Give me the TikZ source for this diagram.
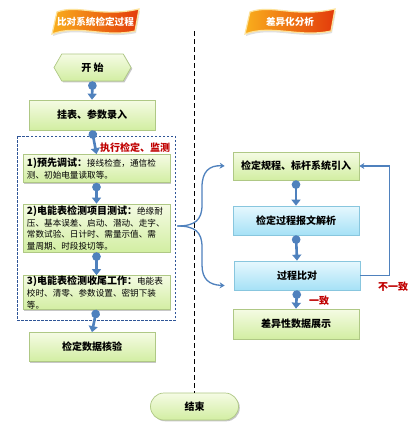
\documentclass[tikz,border=0pt]{standalone}
\usepackage{fontspec}
\setmainfont{Noto Sans CJK SC}
\usetikzlibrary{arrows.meta,shapes.symbols,shadows,calc}
\definecolor{flowblue}{HTML}{4F81BD}
\definecolor{gtop}{HTML}{F5FBE4}
\definecolor{gbot}{HTML}{D2EEA2}
\definecolor{gline}{HTML}{AFC885}
\definecolor{btop}{HTML}{E6F8FE}
\definecolor{bbot}{HTML}{A6E1F6}
\definecolor{bline}{HTML}{88C6DE}
\definecolor{redtxt}{HTML}{C00000}
\definecolor{grpline}{HTML}{2F5597}
\definecolor{flagA}{HTML}{F9AE1C}
\definecolor{flagB}{HTML}{E33A0B}
\definecolor{flagrim}{HTML}{FDE29A}
\tikzset{
  shad/.style={drop shadow={shadow xshift=1.3pt,shadow yshift=-1.3pt,fill=black,opacity=0.22}},
  gbox/.style={draw=gline, line width=0.7pt, top color=gtop, bottom color=gbot, shad,
    font=\fontsize{10}{12}\selectfont\bfseries, inner sep=2pt},
  bbox/.style={draw=bline, line width=0.7pt, top color=btop, bottom color=bbot, shad,
    font=\fontsize{10}{12}\selectfont\bfseries, inner sep=2pt},
  stepbox/.style={gbox, minimum width=147pt, text width=139pt, align=left, inner xsep=4pt, inner ysep=0.5pt,
    font=\fontsize{8.6}{11.8}\selectfont},
  flow/.style={draw=flowblue, line width=2.6pt, {Circle[length=8.5pt]}-{Triangle[width=9pt,length=6pt]}},
  thinflow/.style={draw=flowblue, line width=1.3pt, -{Stealth[length=5pt,width=6pt]}},
  redlab/.style={text=redtxt, font=\fontsize{10}{12}\selectfont\bfseries},
  flagtxt/.style={text=white, font=\fontsize{9.6}{11}\selectfont\bfseries},
}
\newcommand\flagshape[2]{%
  \fill[black,opacity=0.12] ({#1+6},14) .. controls ({#1+0.3*#2+1},6) and ({#1+0.55*#2+1},20) .. ({#1+#2+1},11)
     -- ({#1+#2-3},33) .. controls ({#1+0.6*#2+1},40) and ({#1+0.3*#2+1},26) .. ({#1+1},36) -- cycle;
  \shade[left color=flagA, right color=flagB, draw=flagrim, line width=1.2pt]
    ({#1+5},12) .. controls ({#1+0.3*#2},4) and ({#1+0.55*#2},18) .. ({#1+#2},9)
     -- ({#1+#2-4},31) .. controls ({#1+0.6*#2},38) and ({#1+0.3*#2},24) .. ({#1},34) -- cycle;}
\begin{document}
\begin{tikzpicture}[x=1pt,y=-1pt]
\fill[white] (0,0) rectangle (412,423);
\useasboundingbox (0,0) rectangle (412,423);

% banners
\flagshape{52}{87}
\node[flagtxt] (t1) at (95.5,22) {比对系统检定过程};
\flagshape{245}{90}
\node[flagtxt] (t2) at (290,22) {差异化分析};

% vertical separator
\coordinate (sepTop) at (194.5,31);

% left column
\node[gbox, signal, signal to=east and west, signal pointer angle=120,
      minimum width=77pt, minimum height=27pt] (start) at (92.5,67.5) {开\ 始};
\node[gbox, minimum width=126pt, minimum height=30pt] (input) at (92,115) {挂表、参数录入};
\node[draw=grpline, line width=0.8pt, dash pattern=on 2.5pt off 1.5pt,
      minimum width=158pt, minimum height=184pt] (group) at (96,228) {};
\node[redlab] (exec) at (135,148) {执行检定、监测};
\node[stepbox, minimum height=28pt] (s1) at (96.5,168.5)
  {{\fontsize{10}{11.8}\selectfont\bfseries 1)预先调试：}接线检查，通信检\\测、初始电量读取等。};
\node[stepbox, minimum height=48pt] (s2) at (96.5,228)
  {{\fontsize{10}{11.8}\selectfont\bfseries 2)电能表检测项目测试：}绝缘耐\\压、基本误差、启动、潜动、走字、\\常数试验、日计时、需量示值、需\\量周期、时段投切等。};
\node[stepbox, minimum height=33pt] (s3) at (96.5,292.5)
  {{\fontsize{10}{11.8}\selectfont\bfseries 3)电能表检测收尾工作：}电能表\\校时、清零、参数设置、密钥下装\\等。};
\node[gbox, minimum width=126pt, minimum height=29pt] (verify) at (92,347) {检定数据核验};
\node[gbox, rounded corners=13.5pt, minimum width=88pt, minimum height=27pt] (finish) at (194.5,406.5) {结束};

% right column
\node[gbox, minimum width=126pt, minimum height=28pt] (r1) at (296,166) {检定规程、标杆系统引入};
\node[bbox, minimum width=126pt, minimum height=29pt] (r2) at (296,220.5) {检定过程报文解析};
\node[bbox, minimum width=126pt, minimum height=29pt] (r3) at (297,275.5) {过程比对};
\node[gbox, minimum width=126pt, minimum height=30pt] (r4) at (296,324) {差异性数据展示};
\node[redlab] (ok) at (319,301) {一致};
\node[redlab] (nok) at (393,287) {不一致};

% separator line
\draw[black, line width=1.2pt, dash pattern=on 5pt off 3pt] (sepTop) -- (finish.north);

% flows
\draw[flow] (start.south) -- (input.north);
\draw[flow] (input.south) -- (s1.north);
\draw[flow] (s1.south) -- (s2.north);
\draw[flow] (s2.south) -- (s3.north);
\draw[flow] (s3.south) -- (verify.north);
\draw[flow] (r1.south) -- (r2.north);
\draw[flow] (r2.south) -- (r3.north);
\draw[flow] (r3.south) -- (r4.north);

% feedback
\draw[thinflow] (r3.east) -- ++(29,0) |- (r1.east);

% brace
\coordinate (bt) at ($(group.east)+(2pt,2pt)$);
\draw[thinflow] (bt) .. controls (195,226) and (202,220) .. (202,205) -- (202,187)
   .. controls (202,172) and (209,165) .. ($(r1.west)+(-8pt,0)$);
\draw[thinflow] (bt) .. controls (195,226) and (202,232) .. (202,247) -- (202,265)
   .. controls (202,279) and (209,285) .. ($(r3.west)+(-9pt,-10pt)$);
\end{tikzpicture}
\end{document}
